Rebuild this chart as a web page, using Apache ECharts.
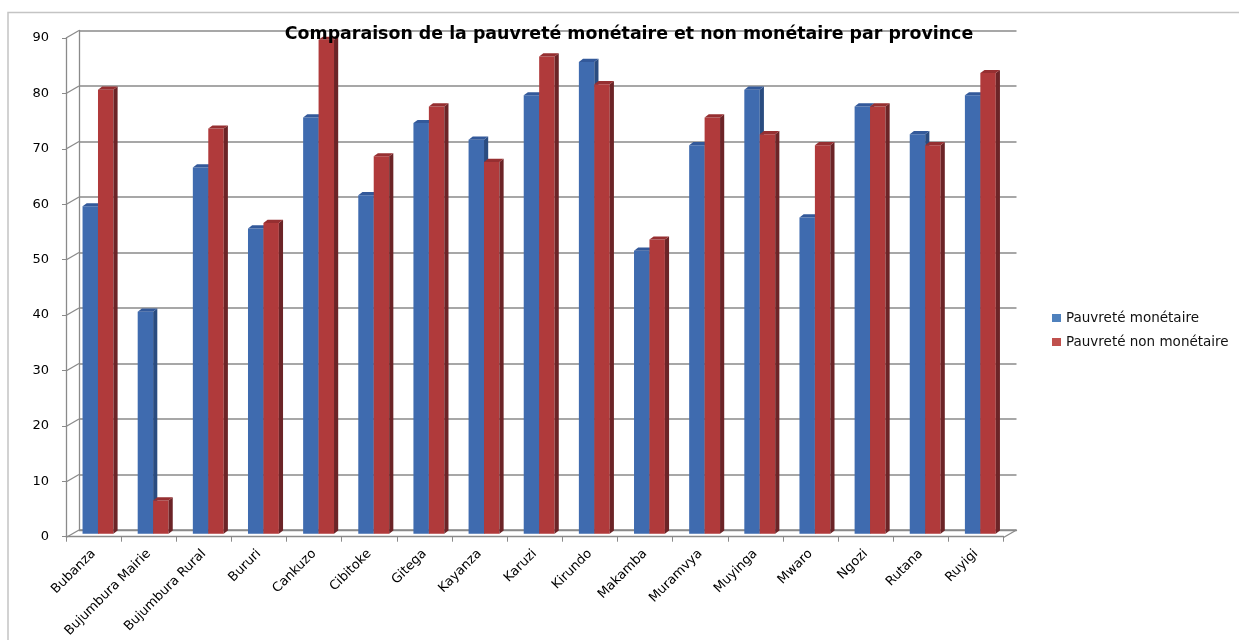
<!DOCTYPE html>
<html><head><meta charset="utf-8">
<script src="https://cdn.jsdelivr.net/npm/echarts@6/dist/echarts.min.js"></script>
<style>html,body{margin:0;padding:0;background:#fff}#c{width:1239px;height:640px}</style>
</head><body><div id="c"></div>
<script>
var categories = ['Bubanza','Bujumbura Mairie','Bujumbura Rural','Bururi','Cankuzo','Cibitoke','Gitega','Kayanza','Karuzi','Kirundo','Makamba','Muramvya','Muyinga','Mwaro','Ngozi','Rutana','Ruyigi'];
var seriesNames = ['Pauvreté monétaire','Pauvreté non monétaire'];
var monetaire = [59,40,66,55,75,61,74,71,79,85,51,70,80,57,77,72,79];
var nonMonetaire = [80,6,73,56,89,68,77,67,86,81,53,75,72,70,77,70,83];
var yTicks = [0,10,20,30,40,50,60,70,80,90];
var titleText = 'Comparaison de la pauvreté monétaire et non monétaire par province';

var faces = [
  {front:'#3F6BAF', side:'#2A4C80', top:'#33599A', legend:'#4F81BD'},
  {front:'#B03A3B', side:'#6C2427', top:'#962F31', legend:'#C0504D'}
];

function prism(si){
  return function(params, api){
    var ci = api.value(0), v = api.value(1);
    var cw = api.size([1,0])[0];
    var base = api.coord([ci,0]);
    var top = api.coord([ci,v]);
    var w = cw*0.28, d = w*0.27, dy = d*0.75;
    var x0 = base[0] - (2*w + d)/2 + si*w;
    var f = faces[si];
    return {type:'group', children:[
      {type:'rect', shape:{x:x0, y:top[1], width:w, height:base[1]-top[1]}, style:{fill:f.front}},
      {type:'polygon', shape:{points:[[x0+w,top[1]],[x0+w+d,top[1]-dy],[x0+w+d,base[1]-dy],[x0+w,base[1]]]}, style:{fill:f.side}},
      {type:'polygon', shape:{points:[[x0,top[1]],[x0+w,top[1]],[x0+w+d,top[1]-dy],[x0+d,top[1]-dy]]}, style:{fill:f.top}}
    ]};
  };
}

function diagonals(params, api){
  var v = api.value(0);
  var cs = params.coordSys;
  var p = api.coord([0, v]);
  var y = p[1];
  var kids = [{type:'line', shape:{x1:cs.x, y1:y, x2:cs.x-13, y2:y+7.5}, style:{stroke:'#8a8a8a', lineWidth:1.3}}];
  if (v === 0) {
    kids.push({type:'line', shape:{x1:cs.x+cs.width, y1:y, x2:cs.x+cs.width-13, y2:y+7.5}, style:{stroke:'#8a8a8a', lineWidth:1.3}});
  }
  return {type:'group', children:kids};
}

var chart = echarts.init(document.getElementById('c'));
var W = 937.5, H = 499.5;
chart.setOption({
  animation:false,
  backgroundColor:'#fff',
  title:{text:titleText, left:624, top:21, textAlign:'center',
    textStyle:{fontFamily:'DejaVu Sans', fontWeight:'bold', fontSize:17.4, color:'#000'}},
  legend:{orient:'vertical', left:1047, top:306, itemWidth:9, itemHeight:8, itemGap:10,
    textStyle:{fontFamily:'DejaVu Sans', fontSize:13.5, color:'#111'},
    data:[{name:seriesNames[0], icon:'rect', itemStyle:{color:faces[0].legend}},
          {name:seriesNames[1], icon:'rect', itemStyle:{color:faces[1].legend}}]},
  graphic:[
    {type:'polyline', shape:{points:[[8,640],[8,12.5],[1239,12.5]]}, style:{stroke:'#c4c4c4', lineWidth:1.5, fill:null}, silent:true}
  ],
  grid:[
    {left:66, top:38, width:W, height:H},
    {left:79, top:30.5, width:W, height:H},
    {left:72.5, top:34.25, width:W, height:H}
  ],
  xAxis:[
    {type:'category', gridIndex:0, data:categories,
      axisLine:{show:true, lineStyle:{color:'#8a8a8a', width:1.3}},
      axisTick:{show:true, length:5, lineStyle:{color:'#8a8a8a'}},
      axisLabel:{interval:0, rotate:45, margin:15, fontFamily:'DejaVu Sans', fontSize:13, color:'#000'}},
    {type:'category', gridIndex:1, data:categories,
      axisLine:{show:true, lineStyle:{color:'#8a8a8a', width:1.3}},
      axisTick:{show:false}, axisLabel:{show:false}},
    {type:'category', gridIndex:2, data:categories, show:false}
  ],
  yAxis:[
    {type:'value', gridIndex:0, min:0, max:90, interval:10,
      axisLine:{show:true, lineStyle:{color:'#8a8a8a', width:1.3}},
      axisTick:{show:true, length:4, lineStyle:{color:'#8a8a8a'}},
      splitLine:{show:false},
      axisLabel:{margin:17, fontFamily:'DejaVu Sans', fontSize:13, color:'#000'}},
    {type:'value', gridIndex:1, min:0, max:90, interval:10,
      axisLine:{show:true, lineStyle:{color:'#8a8a8a', width:1.3}},
      axisTick:{show:false}, axisLabel:{show:false},
      splitLine:{show:true, lineStyle:{color:'#8a8a8a', width:1.5}}},
    {type:'value', gridIndex:2, min:0, max:90, interval:10, show:false}
  ],
  series:[
    {type:'custom', name:'_diag', xAxisIndex:1, yAxisIndex:1, silent:true,
      data:yTicks.map(function(t){return [t];}), encode:{y:0}, renderItem:diagonals, z:1},
    {type:'custom', name:seriesNames[0], xAxisIndex:2, yAxisIndex:2,
      itemStyle:{color:faces[0].legend},
      data:monetaire.map(function(v,i){return [i,v];}), encode:{x:0,y:1}, renderItem:prism(0), z:3},
    {type:'custom', name:seriesNames[1], xAxisIndex:2, yAxisIndex:2,
      itemStyle:{color:faces[1].legend},
      data:nonMonetaire.map(function(v,i){return [i,v];}), encode:{x:0,y:1}, renderItem:prism(1), z:4}
  ]
});
</script></body></html>
